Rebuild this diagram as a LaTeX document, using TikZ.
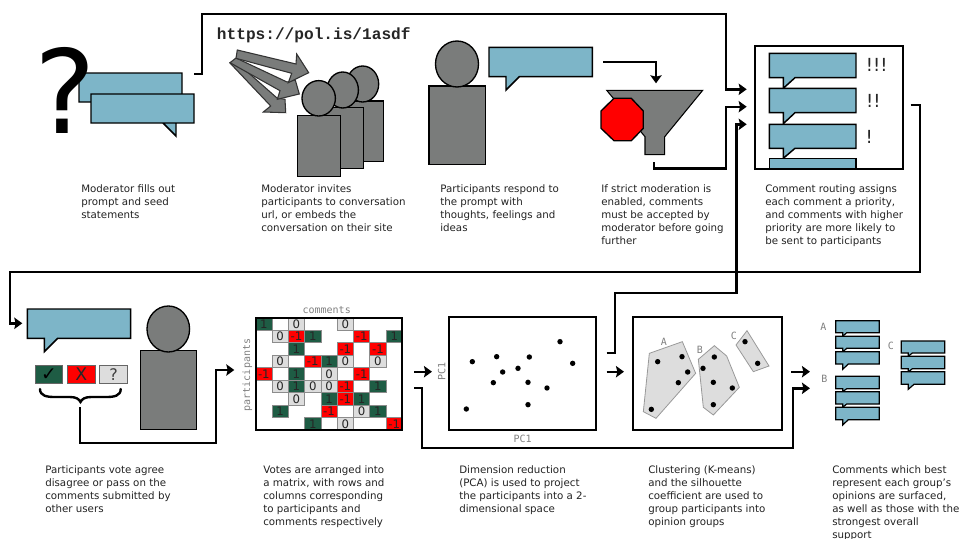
\documentclass[tikz,border=0pt]{standalone}
\usepackage{fontspec}
\setmainfont{DejaVu Sans}
\newfontfamily\monof{DejaVu Sans Mono}
\newfontfamily\urlf{Liberation Mono}
\usetikzlibrary{arrows.meta}
\definecolor{bub}{HTML}{7DB5C8}
\definecolor{pgray}{HTML}{7A7C7B}
\definecolor{vgreen}{HTML}{1E5C44}
\definecolor{lgray}{HTML}{DDDDDD}
\definecolor{labgray}{HTML}{808080}
\definecolor{txt}{HTML}{222222}
\newcommand\speech[7]{\draw[bubblestyle] (#1,#2) -- (#3,#2) -- (#3,#4) -- (#7,#4) -- (#5,#6) -- (#5,#4) -- (#1,#4) -- cycle;}
\newcommand\dotspx[1]{\foreach \dx/\dy in {#1} \fill[black] ({\dxo+\dx/3},{290+\dy/3}) circle (2.7);}
\tikzset{
  x=0.75pt,y=-0.75pt,
  bubblestyle/.style={draw=black,fill=bub,line width=1.1pt,line join=miter},
  person/.style={draw=black,fill=pgray,line width=1pt},
  conn/.style={draw=black,line width=1.8pt,line join=miter,-{Stealth[length=6pt,width=8.5pt,inset=1pt]}},
  plainbox/.style={draw=black,line width=1.7pt},
  fat/.style={draw=black!80,fill=pgray,line width=.8pt},
  caption/.style={anchor=north west,align=left,inner sep=0pt,text=txt,font=\fontsize{7.7pt}{9.8pt}\selectfont},
  mono/.style={text=labgray,inner sep=0pt,font=\monof\fontsize{7.5pt}{9pt}\selectfont},
  votebox/.style={draw=black!60,line width=.6pt,inner sep=0pt,minimum width=20.6pt,minimum height=13.2pt},
  cellbase/.style={draw=black!45,line width=.5pt,inner sep=0pt,minimum width=12.2pt,minimum height=9.4pt,text=black!85,font=\fontsize{8.8pt}{9pt}\selectfont},
  cellone/.style={cellbase,fill=vgreen},
  cellzero/.style={cellbase,fill=lgray},
  cellneg/.style={cellbase,fill=red},
  hull/.style={draw=black!40,fill=lgray,line width=.6pt},
}
\begin{document}
\begin{tikzpicture}
\useasboundingbox (0,0) rectangle (961,539);
% --- coordinates for the connectors
\coordinate (a1s) at (194,74);   \coordinate (a1t) at (746.7,89.3);
\coordinate (a1u) at (202,14);   \coordinate (a1v) at (726,14);
\coordinate (a2s) at (603.3,62); \coordinate (a2v) at (656,62); \coordinate (a2t) at (656,83.3);
\coordinate (a3s) at (654,162);  \coordinate (a3b) at (654,168.3); \coordinate (a3c) at (726,168.3); \coordinate (a3d) at (726,106.7); \coordinate (a3t) at (746.7,106.7);
\coordinate (a4s) at (910.7,104.7);\coordinate (a4b) at (920,104.7); \coordinate (a4c) at (920,272); \coordinate (a4d) at (10,272); \coordinate (a4e) at (10,323.3); \coordinate (a4t) at (22.3,323.3);
\coordinate (a5s) at (80,407.3); \coordinate (a5b) at (80,442.7); \coordinate (a5c) at (215.7,442.7); \coordinate (a5d) at (215.7,370); \coordinate (a5t) at (234.3,370);
\coordinate (a6s) at (414,371.7);\coordinate (a6t) at (432,371.7);
\coordinate (a7s) at (414,387.7);\coordinate (a7b) at (422,387.7); \coordinate (a7c) at (422,447.7); \coordinate (a7d) at (793,447.7); \coordinate (a7e) at (793,388.3); \coordinate (a7t) at (810,388.3);
\coordinate (a8s) at (606.7,353);\coordinate (a8b) at (615,353); \coordinate (a8c) at (615,293); \coordinate (a8d) at (736.5,293); \coordinate (a8e) at (736.5,124.3); \coordinate (a8t) at (746.7,124.3);
\coordinate (a9s) at (606.7,371.7);\coordinate (a9t) at (624,371.7);
\coordinate (a10s) at (791.3,371.7);\coordinate (a10t) at (810,371.7);

% --- step 1
\speech{79}{73}{182}{102}{100}{110}{112}
\node[inner sep=0pt,font=\fontsize{87pt}{90pt}\selectfont,text=black] (qmark) at (65,90) {?};
\speech{91}{94}{194}{123}{176}{136}{163}

% --- step 2
\node[anchor=west,inner sep=0pt,font=\urlf\bfseries\fontsize{12.1pt}{14pt}\selectfont,text=black!85] (url) at (216.7,35) {https://pol.is/1asdf};
\draw[fat] (230,63) -- (235,61) -- (277,98) -- (285,99.3) -- (285.7,112.7) -- (263.3,112) -- (270.7,106) -- cycle;
\draw[fat] (230,62.7) -- (236,58) -- (287,82) -- (295.3,80) -- (299.3,94) -- (277.3,99.3) -- (280,90.7) -- cycle;
\draw[fat] (237.3,50) -- (296,64) -- (296.7,54) -- (308.7,72.7) -- (288.3,82.7) -- (291.7,73.3) -- (236,58.3) -- cycle;
\draw[person] (339,101) rectangle (383.3,161.7);
\draw[person] (362.7,84) ellipse (16 and 18);
\draw[person] (319,107.7) rectangle (363.7,168.3);
\draw[person] (342.7,90) ellipse (15.7 and 18);
\draw[person] (297.3,115.7) rectangle (340.7,176.7);
\draw[person] (318.7,98.3) ellipse (16.7 and 17.7);

% --- step 3
\draw[person] (429,86) rectangle (485.3,164.7);
\draw[person] (457,64) ellipse (21.5 and 23);
\speech{489}{47.3}{592.3}{76.7}{506}{90}{519.3}

% --- step 4
\draw[draw=black,fill=pgray,line width=.8pt] (606.7,90.3) -- (702.7,90.3) -- (664.7,136.7) -- (664.7,154.7) -- (645,154.7) -- (645,136.7) -- cycle;
\draw[draw=black,fill=red,line width=1pt] (614,98.3) -- (631.3,98.3) -- (643.3,111) -- (643.3,128.3) -- (631.3,140.7) -- (614,140.7) -- (601,128.3) -- (601,111) -- cycle;

% --- step 5
\speech{769.3}{53.3}{856}{77.7}{783.3}{88.3}{795}
\speech{769.3}{88.3}{856}{112.7}{783.3}{123.7}{795}
\speech{769.3}{124.3}{856}{148.3}{783.3}{158.3}{795}
\draw[bubblestyle] (769.3,169.3) -- (769.3,158.3) -- (856,158.3) -- (856,169.3);
\draw[plainbox] (755,46) rectangle (902.7,169.3);
\foreach \xp/\yp/\tt/\nm in {876.7/65.3/!!!/p3,873.3/100.7/!!/p2,869.3/136.7/!/p1}
  \node[inner sep=0pt,text=black!85,font=\fontsize{13.5pt}{16pt}\selectfont] (\nm) at (\xp,\yp) {\tt};

% --- step 6
\speech{27.3}{309}{130.7}{338.3}{44.3}{351.7}{57.7}
\draw[person] (140.3,350.7) rectangle (196.7,429.3);
\draw[person] (168.3,329) ellipse (21.3 and 23);
\node[votebox,fill=vgreen,font=\fontsize{14pt}{14pt}\selectfont,text=black] (agree) at (48.85,374.5) {✓};
\node[votebox,fill=red,font=\fontsize{13pt}{13pt}\selectfont,text=black!85] (disagree) at (81.3,374.5) {X};
\node[votebox,fill=lgray,font=\fontsize{12pt}{12pt}\selectfont,text=black!75] (pass) at (113.5,374.5) {?};
\draw[draw=black,line width=1.8pt,line cap=round] (40,389) .. controls (40,396) and (47,397) .. (55,397) -- (70,397) .. controls (76,397) and (79,399) .. (80.5,402) .. controls (82,399) and (85,397) .. (91,397) -- (106,397) .. controls (114,397) and (120.7,396) .. (120.7,389);

% --- step 7
\foreach \ro/\co/\sty/\val in {0/0/cellone/1,0/2/cellzero/0,0/5/cellzero/0,
 1/1/cellzero/0,1/2/cellneg/-1,1/3/cellone/1,1/6/cellneg/-1,1/8/cellone/1,
 2/2/cellone/1,2/5/cellneg/-1,2/7/cellneg/-1,
 3/1/cellzero/0,3/3/cellneg/-1,3/4/cellone/1,3/5/cellzero/0,3/7/cellzero/0,
 4/0/cellneg/-1,4/2/cellone/1,4/4/cellzero/0,4/6/cellneg/-1,
 5/1/cellzero/0,5/2/cellone/1,5/3/cellzero/0,5/4/cellzero/0,5/5/cellneg/-1,5/7/cellone/1,
 6/2/cellzero/0,6/4/cellone/1,6/5/cellneg/-1,6/6/cellone/1,
 7/1/cellone/1,7/4/cellneg/-1,7/6/cellzero/0,7/7/cellone/1,
 8/3/cellone/1,8/5/cellzero/0,8/8/cellneg/-1}
  \node[\sty] (cell-\ro-\co) at ({255.7+16.3*\co+8.15},{317.7+12.5*\ro+6.25}) {\val};
\draw[plainbox] (255.7,317.7) rectangle (402.3,430);
\node[mono] (lcomments) at (326.7,310) {comments};
\node[mono,rotate=90] (lparticipants) at (247.3,375) {participants};

% --- step 8
\draw[plainbox] (449,316.7) rectangle (596,430);
\def\dxo{420}
\dotspx{157/215,230/200,328/201,420/155,458/220,248/246,294/235,220/278,324/277,381/294,139/357,324/344}
\node[mono,rotate=90] (lpcy) at (441.7,371.7) {PC1};
\node[mono] (lpcx) at (522.7,439.3) {PC1};

% --- step 9
\draw[plainbox] (633.3,316.7) rectangle (781.7,430);
\def\hp#1/#2;{({620+#1/3},{290+#2/3})}
\draw[hull] \hp88/190; -- \hp187/155; -- \hp227/250; -- \hp108/385; -- \hp70/365; -- cycle;
\draw[hull] \hp235/208; -- \hp283/167; -- \hp320/198; -- \hp358/292; -- \hp280/375; -- \hp250/352; -- cycle;
\draw[hull] \hp348/165; -- \hp381/122; -- \hp447/228; -- \hp400/245; -- cycle;
\def\dxo{620}
\dotspx{113/215,186/200,203/246,175/278,94/358,283/201,249/235,280/277,337/294,280/344,375/155,413/220}
\node[mono] (cla) at (664,342.3) {A};
\node[mono] (clb) at (700,350) {B};
\node[mono] (clc) at (734,335.7) {C};

% --- step 10
\tikzset{bubblestyle/.append style={line width=.9pt}}
\speech{835.7}{320.7}{879.3}{332.7}{842.7}{336.3}{846.7}
\speech{835.7}{336.3}{879.3}{348.3}{842.7}{352}{846.7}
\speech{835.7}{351.7}{879.3}{364}{842.7}{369.3}{848.3}
\speech{835.7}{376.3}{879.3}{388.7}{842.7}{391.7}{846.7}
\speech{835.7}{391.7}{879.3}{404}{842.7}{407.3}{846.7}
\speech{835.7}{407.3}{879.3}{419.7}{842.7}{425}{848.3}
\speech{901.3}{341}{944.7}{353}{908.3}{356.3}{912.3}
\speech{901.3}{356.3}{944.7}{368.7}{908.3}{372}{912.3}
\speech{901.3}{371.7}{944.7}{384.3}{908.3}{389.3}{914}
\node[mono] (sa) at (823.3,326.7) {A};
\node[mono] (sb) at (824.3,379.3) {B};
\node[mono] (sc) at (891,346) {C};

% --- connectors
\draw[conn] (a1s) -- (a1s-|a1u) -- (a1u) -- (a1v) -- (a1v|-a1t) -- (a1t);
\draw[conn] (a2s) -- (a2v) -- (a2t);
\draw[conn] (a3s) -- (a3b) -- (a3c) -- (a3d) -- (a3t);
\draw[conn] (a4s) -- (a4b) -- (a4c) -- (a4d) -- (a4e) -- (a4t);
\draw[conn] (a5s) -- (a5b) -- (a5c) -- (a5d) -- (a5t);
\draw[conn] (a6s) -- (a6t);
\draw[conn] (a7s) -- (a7b) -- (a7c) -- (a7d) -- (a7e) -- (a7t);
\draw[conn] (a8s) -- (a8b) -- (a8c) -- (a8d) -- (a8e) -- (a8t);
\draw[conn] (a9s) -- (a9t);
\draw[conn] (a10s) -- (a10t);

% --- captions
\node[caption] (t1) at (81,184) {Moderator fills out\\prompt and seed\\statements};
\node[caption] (t2) at (261,184) {Moderator invites\\participants to conversation\\url, or embeds the\\conversation on their site};
\node[caption] (t3) at (440,184) {Participants respond to\\the prompt with\\thoughts, feelings and\\ideas};
\node[caption] (t4) at (601,184) {If strict moderation is\\enabled, comments\\must be accepted by\\moderator before going\\further};
\node[caption] (t5) at (765,184) {Comment routing assigns\\each comment a priority,\\and comments with higher\\priority are more likely to\\be sent to participants};
\node[caption] (t6) at (45,465) {Participants vote agree\\disagree or pass on the\\comments submitted by\\other users};
\node[caption] (t7) at (263,465) {Votes are arranged into\\a matrix, with rows and\\columns corresponding\\to participants and\\comments respectively};
\node[caption] (t8) at (459,465) {Dimension reduction\\(PCA) is used to project\\the participants into a 2-\\dimensional space};
\node[caption] (t9) at (648,465) {Clustering (K-means)\\and the silhouette\\coefficient are used to\\group participants into\\opinion groups};
\node[caption] (t10) at (832,465) {Comments which best\\represent each group's\\opinions are surfaced,\\as well as those with the\\strongest overall\\support};
\end{tikzpicture}
\end{document}
